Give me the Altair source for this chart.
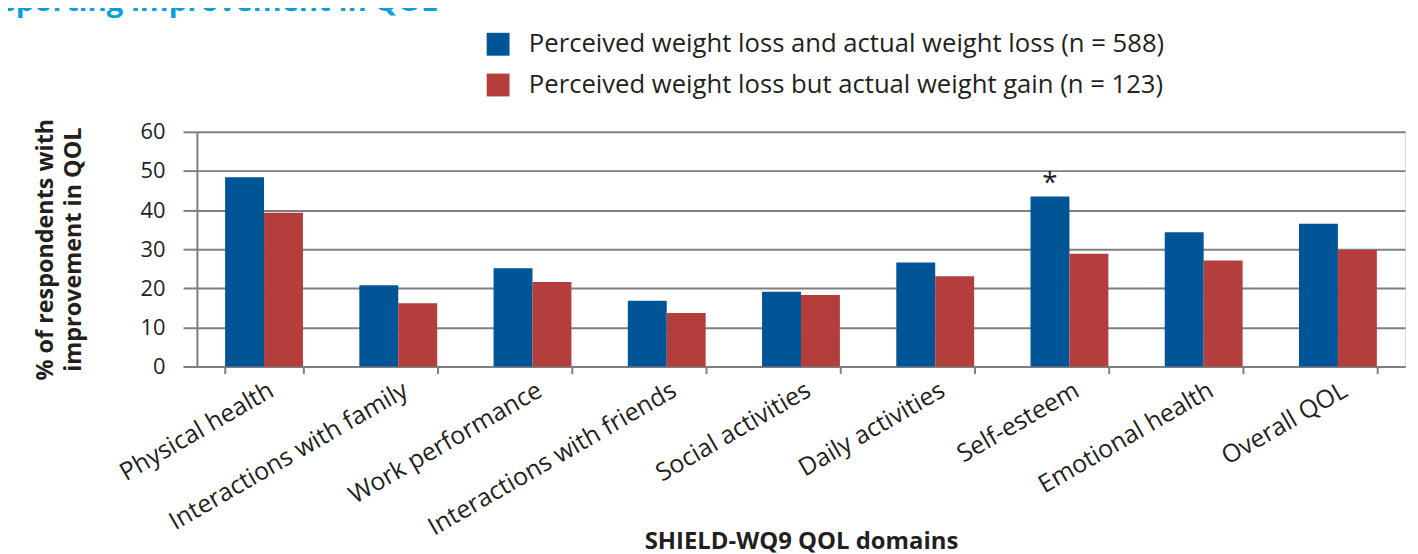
import altair as alt
import pandas as pd

domains = ["Physical health", "Interactions with family", "Work performance",
           "Interactions with friends", "Social activities", "Daily activities",
           "Self-esteem", "Emotional health", "Overall QOL"]
series = ["Perceived weight loss and actual weight loss (n = 588)",
          "Perceived weight loss but actual weight gain (n = 123)"]
loss_loss = [48.4, 20.8, 25.1, 16.8, 19.1, 26.6, 43.5, 34.3, 36.5]
loss_gain = [39.3, 16.2, 21.6, 13.7, 18.3, 23.1, 28.8, 27.1, 29.8]
y_ticks = [0, 10, 20, 30, 40, 50, 60]
star_domain = ["Self-esteem"]
star_text = ["*"]
heading = ["reporting improvement in QOL"]

colors = ["#005596", "#b43e3c"]
FONT = "Open Sans"
TXT = "#231f20"
GRAY = "#7f7f7f"

rows = []
for d, a, b in zip(domains, loss_loss, loss_gain):
    rows.append({"domain": d, "series": series[0], "value": a})
    rows.append({"domain": d, "series": series[1], "value": b})
df = pd.DataFrame(rows)

star_df = pd.DataFrame({
    "domain": star_domain,
    "series": [series[0]],
    "value": [loss_loss[domains.index(star_domain[0])]],
    "t": star_text,
})
head_df = pd.DataFrame({"t": heading})

x_enc = alt.X("domain:N", sort=domains,
              scale=alt.Scale(paddingInner=0.42, paddingOuter=0.21),
              axis=alt.Axis(title="SHIELD-WQ9 QOL domains", labelAngle=-30,
                            labelAlign="right", labelBaseline="top",
                            labelFontSize=25, labelPadding=4, labelOffset=1,
                            labelColor=TXT, labelFont=FONT, labelLimit=500,
                            tickBand="extent", tickSize=7,
                            tickWidth=2, tickColor=GRAY, domainColor=GRAY,
                            domainWidth=2, titleFont=FONT, titleFontSize=24,
                            titleFontWeight="bold", titleColor=TXT, titleY=183,
                            titleBaseline="alphabetic", grid=False,
                            labelOverlap=False))
xo_enc = alt.XOffset("series:N", sort=series,
                     scale=alt.Scale(paddingInner=0, paddingOuter=0))
y_enc = alt.Y("value:Q", scale=alt.Scale(domain=[0, 60], nice=False),
              axis=alt.Axis(values=y_ticks, title=["% of respondents with", "improvement in QOL"],
                            titleFont=FONT, titleFontSize=23.5, titleFontWeight="bold",
                            titleColor=TXT, titleLineHeight=28, titleX=-140, titleY=118,
                            titleAngle=-90, titleBaseline="bottom", titleAlign="center",
                            labelFont=FONT, labelFontSize=22, labelColor=TXT,
                            labelPadding=18, labelOverlap=False, tickSize=14, tickWidth=2,
                            tickColor=GRAY, domainColor=GRAY, domainWidth=2,
                            grid=True, gridColor=GRAY, gridWidth=2))

bars = alt.Chart(df).mark_bar().encode(
    x=x_enc, xOffset=xo_enc, y=y_enc,
    color=alt.Color("series:N", sort=series,
                    scale=alt.Scale(domain=series, range=colors),
                    legend=alt.Legend(title=None, orient="none", legendX=290, legendY=-101,
                                      symbolType="square", symbolSize=529,
                                      symbolStrokeWidth=0, labelFont=FONT,
                                      labelFontSize=25.8, labelColor=TXT, labelOffset=18,
                                      rowPadding=14, padding=0, labelLimit=900)),
)

star = alt.Chart(star_df).mark_text(font=FONT, fontSize=28, color=TXT, dy=-12,
                                    baseline="middle").encode(
    x=x_enc, xOffset=xo_enc, y=y_enc, text="t:N")

head = alt.Chart(head_df).mark_text(font=FONT, fontSize=29.5, fontWeight="bold",
                                    color="#0a9fdc", align="right",
                                    baseline="alphabetic").encode(
    x=alt.value(242), y=alt.value(-122), text="t:N")

chart = alt.layer(bars, star, head).properties(
    width=1215, height=236,
    autosize=alt.AutoSizeParams(type="none"),
    padding={"left": 190, "top": 123, "right": 5, "bottom": 187},
).configure_view(stroke=None).configure(background="white")

chart.save("out.html", embed_options={"renderer": "svg", "actions": False})
